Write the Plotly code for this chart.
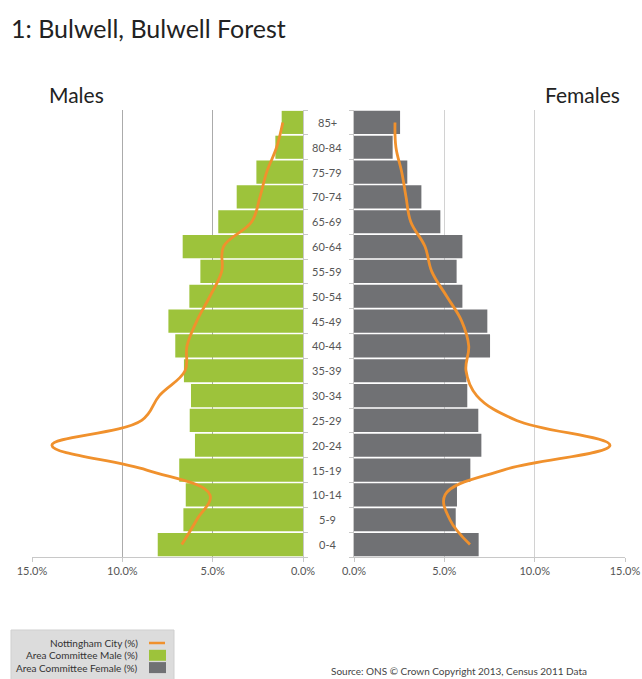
import plotly.graph_objects as go

# Age bands, youngest first (bottom of the pyramid)
ages = ["0-4", "5-9", "10-14", "15-19", "20-24", "25-29", "30-34", "35-39", "40-44",
        "45-49", "50-54", "55-59", "60-64", "65-69", "70-74", "75-79", "80-84", "85+"]

# Area Committee population share (%)
male_area = [8.04, 6.62, 6.49, 6.85, 5.98, 6.27, 6.20, 6.59, 7.07,
             7.45, 6.29, 5.68, 6.66, 4.69, 3.67, 2.58, 1.53, 1.18]
female_area = [6.90, 5.63, 5.70, 6.44, 7.05, 6.88, 6.27, 6.22, 7.53,
               7.38, 6.00, 5.68, 6.00, 4.78, 3.73, 2.95, 2.14, 2.55]

# Nottingham City population share (%)
male_city = [6.71, 5.88, 5.15, 8.65, 13.9, 8.93, 7.95, 6.53, 6.42,
             5.88, 5.15, 4.50, 4.40, 2.84, 2.38, 2.01, 1.46, 1.12]
female_city = [6.42, 5.31, 5.04, 8.26, 14.17, 9.00, 6.79, 6.20, 6.35,
               5.96, 5.13, 4.30, 3.93, 3.14, 2.88, 2.64, 2.32, 2.27]

tick_vals = [0, 5, 10, 15]
tick_text = [f"{v:.1f}%" for v in tick_vals]

GREEN = "#9DC33B"
GREY = "#707174"
ORANGE = "#F0912D"
FONT = "Lato"

W, H = 642, 679
y_top, y_bot = 110, 557

fig = go.Figure()

fig.add_trace(go.Bar(x=male_area, y=ages, orientation="h", marker_color=GREEN,
                     marker_line_width=0, xaxis="x", yaxis="y",
                     name="Area Committee Male (%)", showlegend=False))
fig.add_trace(go.Bar(x=female_area, y=ages, orientation="h", marker_color=GREY,
                     marker_line_width=0, xaxis="x2", yaxis="y2",
                     name="Area Committee Female (%)", showlegend=False))
fig.add_trace(go.Scatter(x=male_city, y=ages, mode="lines",
                         line=dict(color=ORANGE, width=2.8, shape="spline", smoothing=1.1),
                         xaxis="x", yaxis="y", name="Nottingham City (%)", showlegend=False))
fig.add_trace(go.Scatter(x=female_city, y=ages, mode="lines",
                         line=dict(color=ORANGE, width=2.8, shape="spline", smoothing=1.1),
                         xaxis="x2", yaxis="y2", showlegend=False))

ydom = [1 - y_bot / H, 1 - y_top / H]
xaxis_common = dict(tickvals=tick_vals, ticktext=tick_text,
                    showline=True, linecolor="#c8c8c8", linewidth=1,
                    ticks="outside", ticklen=4, tickcolor="#c8c8c8",
                    tickfont=dict(family=FONT, size=11, color="#555"),
                    zeroline=False, fixedrange=True, automargin=False)
yaxis_common = dict(type="category", categoryorder="array", categoryarray=ages,
                    range=[-0.5, len(ages) - 0.5],
                    showticklabels=False, showgrid=False, showline=True,
                    linecolor="#c8c8c8", ticks="outside", tickson="boundaries",
                    ticklen=4, tickcolor="#c8c8c8", domain=ydom, zeroline=False,
                    automargin=False)

fig.update_layout(
    width=W, height=H,
    margin=dict(l=0, r=0, t=0, b=0, autoexpand=False),
    paper_bgcolor="white", plot_bgcolor="white",
    bargap=0.07,
    showlegend=False,
    xaxis=dict(domain=[32 / W, 303 / W], range=[15, 0], anchor="y",
               showgrid=True, gridcolor="#ababab", gridwidth=1, **xaxis_common),
    xaxis2=dict(domain=[354 / W, 625 / W], range=[0, 15], anchor="y2",
                showgrid=True, gridcolor="#d2d2d2", gridwidth=1, **xaxis_common),
    yaxis=dict(anchor="x", side="right", **yaxis_common),
    yaxis2=dict(anchor="x2", side="left", **yaxis_common),
)

annotations = [
    dict(text="1: Bulwell, Bulwell Forest", x=9 / W, y=1 - 28 / H, xanchor="left",
         yanchor="middle", font=dict(family=FONT, size=25, color="#222")),
    dict(text="Males", x=47 / W, y=1 - 95 / H, xanchor="left", yanchor="middle",
         font=dict(family=FONT, size=21, color="#222")),
    dict(text="Females", x=622 / W, y=1 - 95 / H, xanchor="right", yanchor="middle",
         font=dict(family=FONT, size=21, color="#222")),
    dict(text="Source: ONS © Crown Copyright 2013, Census 2011 Data", x=329 / W,
         y=1 - 671 / H, xanchor="left", yanchor="middle",
         font=dict(family=FONT, size=10, color="#444")),
]
# Age band labels between the two halves
for a in ages:
    annotations.append(dict(text=a, x=327 / W, xref="paper", y=a, yref="y",
                            xanchor="center", yanchor="middle", showarrow=False,
                            font=dict(family=FONT, size=11, color="#555")))

# Legend panel
legend_rows = [("Nottingham City (%)", "line", ORANGE),
               ("Area Committee Male (%)", "box", GREEN),
               ("Area Committee Female (%)", "box", GREY)]
shapes = [dict(type="rect", xref="paper", yref="paper", x0=11 / W, x1=174 / W,
               y0=1 - 690 / H, y1=1 - 630 / H, fillcolor="#dcdcdc",
               line=dict(color="#cfcfcf", width=1), layer="below")]
for i, (label, kind, col) in enumerate(legend_rows):
    yc = 643 + i * 12.3
    annotations.append(dict(text=label, x=140 / W, y=1 - yc / H, xanchor="right",
                            yanchor="middle", font=dict(family=FONT, size=10, color="#333")))
    if kind == "line":
        shapes.append(dict(type="line", xref="paper", yref="paper", x0=149 / W, x1=165 / W,
                           y0=1 - yc / H, y1=1 - yc / H, line=dict(color=col, width=2.5)))
    else:
        shapes.append(dict(type="rect", xref="paper", yref="paper", x0=149 / W, x1=166 / W,
                           y0=1 - (yc + 5.5) / H, y1=1 - (yc - 5.5) / H,
                           fillcolor=col, line=dict(color=col, width=0)))

for ann in annotations:
    ann.setdefault("xref", "paper")
    ann.setdefault("yref", "paper")
    ann.setdefault("showarrow", False)

fig.update_layout(annotations=annotations, shapes=shapes)

fig.write_html("out.html")
